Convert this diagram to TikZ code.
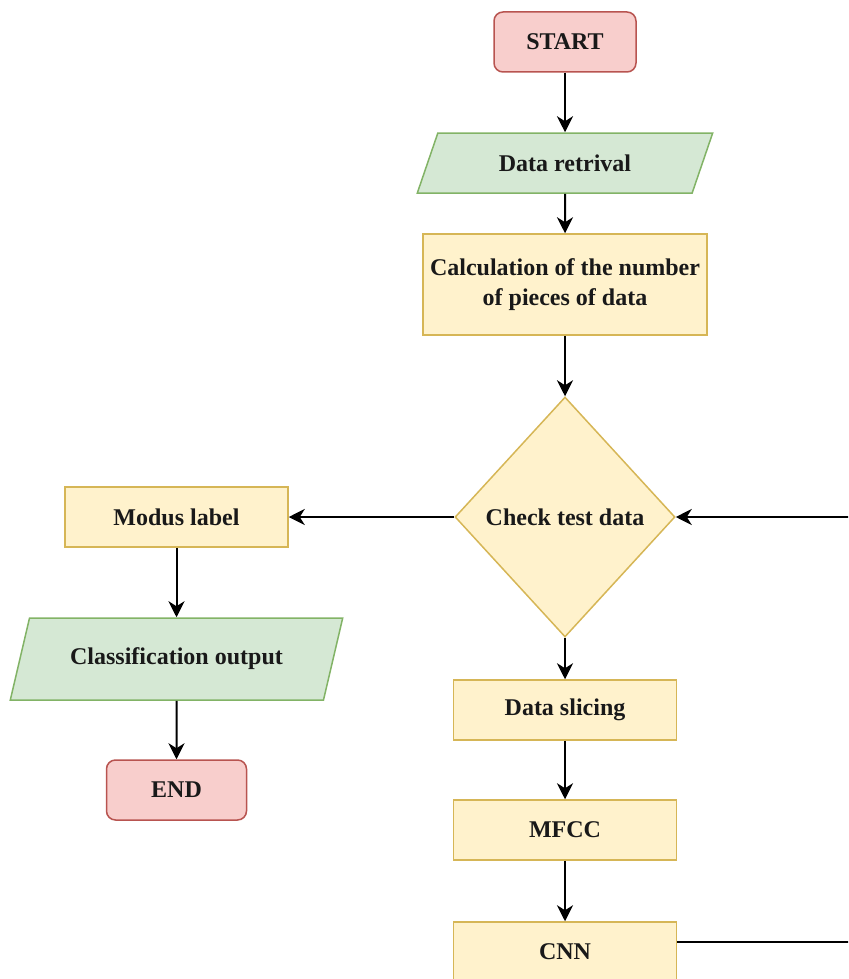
\documentclass[tikz,border=0pt]{standalone}
\usepackage{fontspec}
\setmainfont{Liberation Serif}
\usetikzlibrary{shapes.geometric,arrows.meta}
\definecolor{redfill}{HTML}{F8CECC}
\definecolor{redline}{HTML}{B85450}
\definecolor{greenfill}{HTML}{D5E8D4}
\definecolor{greenline}{HTML}{82B366}
\definecolor{yelfill}{HTML}{FFF2CC}
\definecolor{yelline}{HTML}{D6B656}
\begin{document}
\begin{tikzpicture}[x=1pt,y=-1pt,
  font=\fontsize{24}{30}\selectfont\bfseries,
  base/.style={draw, line width=1.5pt, inner sep=0pt, align=center, text=black!90},
  term/.style={base, rectangle, rounded corners=9pt, fill=redfill, draw=redline, minimum width=142pt, minimum height=60pt},
  proc/.style={base, rectangle, fill=yelfill, draw=yelline, minimum width=223pt, minimum height=60pt},
  io/.style={base, trapezium, trapezium left angle=57.7, trapezium right angle=122.3, trapezium stretches=true, fill=greenfill, draw=greenline, minimum height=60pt},
  decide/.style={base, diamond, fill=yelfill, draw=yelline, minimum width=220pt, minimum height=240pt},
  arr/.style={line width=2pt, -{Stealth[length=16pt,width=16pt,inset=5pt]}},
  ln/.style={line width=2pt}]
\useasboundingbox (0,0) rectangle (848,979);
\clip (0,0) rectangle (848,979);
\node[term] (start) at (565,42) {START};
\node[io, minimum width=296pt] (data) at (565,163) {Data retrival};
\node[proc, minimum width=284pt, minimum height=101pt] (calc) at (565,284.5) {Calculation of the number\\of pieces of data};
\node[decide] (check) at (565,517) {Check test data};
\node[proc] (modus) at (176.5,517) {Modus label};
\node[io, minimum width=333pt, minimum height=82pt] (cls) at (176.5,659) {Classification output};
\node[term, minimum width=140pt] (end) at (176.5,790) {END};
\node[proc] (slice) at (565,710) {Data slicing};
\node[proc] (mfcc) at (565,830) {MFCC};
\node[proc] (cnn) at (565,952) {CNN};
\coordinate (cnnout) at (860,942);
\coordinate (loopin) at (860,517);
\draw[arr] (start) -- (data);
\draw[arr] (data) -- (calc);
\draw[arr] (calc) -- (check);
\draw[arr] (check) -- (modus);
\draw[arr] (modus) -- (cls);
\draw[arr] (cls) -- (end);
\draw[arr] (check) -- (slice);
\draw[arr] (slice) -- (mfcc);
\draw[arr] (mfcc) -- (cnn);
\draw[ln] (cnn.east |- cnnout) -- (cnnout);
\draw[arr] (loopin) -- (check);
\end{tikzpicture}
\end{document}
